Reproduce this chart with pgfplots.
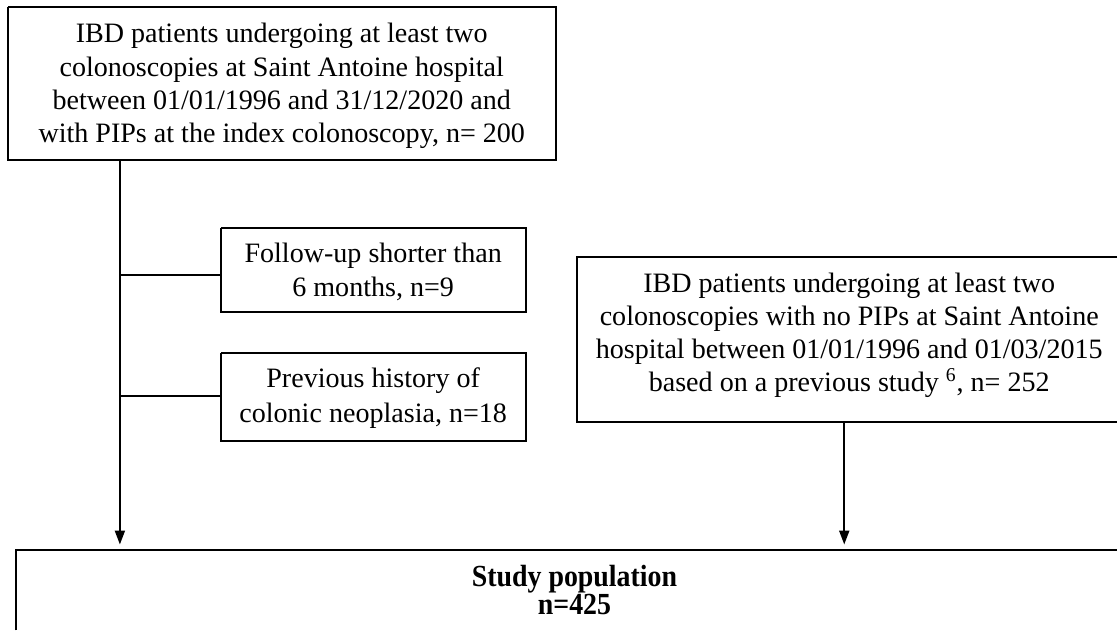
\documentclass[border=0pt]{standalone}
\usepackage{pgfplots}
\pgfplotsset{compat=1.18}
\usetikzlibrary{arrows.meta}
\usepackage{fontspec}
\setmainfont{Liberation Serif}
\begin{document}
\begin{tikzpicture}
\begin{axis}[
  width=559bp, height=315.5bp, scale only axis,
  xmin=0, xmax=1118, ymin=0, ymax=631, y dir=reverse,
  hide axis, clip=false,
]
\path (axis cs:0,0) rectangle (axis cs:1118,631);
% boxes
\addplot[black, line width=1bp, mark=none] coordinates {(8,7) (556,7) (556,160) (8,160) (8,7)};
\addplot[black, line width=1bp, mark=none] coordinates {(221,228) (526,228) (526,312) (221,312) (221,228)};
\addplot[black, line width=1bp, mark=none] coordinates {(221,353) (526,353) (526,441) (221,441) (221,353)};
\addplot[black, line width=1bp, mark=none] coordinates {(1118,257) (578,257) (578,422) (1118,422)};
\addplot[black, line width=1bp, mark=none] coordinates {(16,631) (16,550) (1118,550)};
% connectors
\addplot[black, line width=1bp, mark=none, -{Triangle[length=7bp,width=5bp]}] coordinates {(120,160) (120,545)};
\addplot[black, line width=1bp, mark=none] coordinates {(120,275) (221,275)};
\addplot[black, line width=1bp, mark=none] coordinates {(120,396) (221,396)};
\addplot[black, line width=1bp, mark=none, -{Triangle[length=7bp,width=5bp]}] coordinates {(845,422) (845,545)};
% texts
\tikzset{t/.style={anchor=base, inner sep=0pt, font=\fontsize{14.1}{16}\selectfont}}
\node[t] at (axis cs:282,43) {IBD patients undergoing at least two};
\node[t] at (axis cs:282,76.3) {colonoscopies at Saint Antoine hospital};
\node[t] at (axis cs:282,109.7) {between 01/01/1996 and 31/12/2020 and};
\node[t] at (axis cs:282,143) {with PIPs at the index colonoscopy, n= 200};
\node[t] at (axis cs:373.5,263) {Follow-up shorter than};
\node[t] at (axis cs:373.5,297) {6 months, n=9};
\node[t] at (axis cs:373.5,388) {Previous history of};
\node[t] at (axis cs:373.5,423) {colonic neoplasia, n=18};
\node[t] at (axis cs:850,293) {IBD patients undergoing at least two};
\node[t] at (axis cs:850,325.5) {colonoscopies with no PIPs at Saint Antoine};
\node[t] at (axis cs:850,358.5) {hospital between 01/01/1996 and 01/03/2015};
\node[t] at (axis cs:850,392) {based on a previous study \textsuperscript{6}, n= 252};
\node[anchor=base, inner sep=0pt, font=\bfseries\fontsize{14}{16}\selectfont] at (axis cs:575,587) {\scalebox{1}[1.1]{Study population}};
\node[anchor=base, inner sep=0pt, font=\bfseries\fontsize{14}{16}\selectfont] at (axis cs:575,615) {\scalebox{1}[1.1]{n=425}};
\end{axis}
\end{tikzpicture}
\end{document}
